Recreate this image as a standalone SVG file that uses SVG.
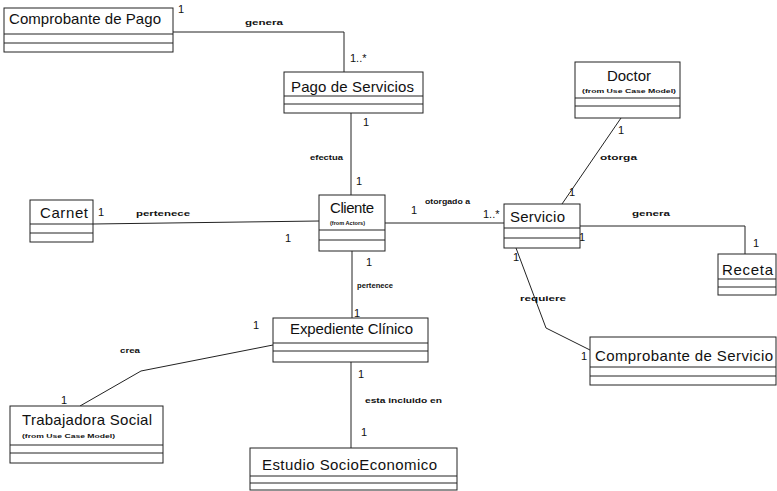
<svg xmlns="http://www.w3.org/2000/svg" width="777" height="491" viewBox="0 0 777 491">
  <style>
    .box { fill: #ffffff; stroke: #222222; stroke-width: 1; }
    .div { stroke: #222222; stroke-width: 1; fill: none; }
    .name { font-family: "Liberation Sans", Arial, sans-serif; font-size: 15px; fill: #111111; }
    .from { font-family: "Liberation Sans", Arial, sans-serif; font-size: 6px; font-weight: bold; fill: #111111; }
    .lbl { font-family: "Liberation Sans", Arial, sans-serif; font-size: 8px; font-weight: bold; fill: #111111; }
    .mult { font-family: "Liberation Sans", Arial, sans-serif; font-size: 11px; fill: #111111; }
    .assoc { stroke: #222222; stroke-width: 1; fill: none; }
  </style>
  <rect width="777" height="491" fill="#ffffff"/>

  <!-- associations -->
  <g id="connectors">
    <polyline class="assoc" points="173,32 344,32 344,72"/>
    <line class="assoc" x1="351" y1="113" x2="351" y2="195"/>
    <line class="assoc" x1="93" y1="224" x2="319" y2="221"/>
    <line class="assoc" x1="385" y1="223" x2="504" y2="223"/>
    <line class="assoc" x1="621" y1="118" x2="562" y2="204"/>
    <polyline class="assoc" points="580,226 745,226 745,254"/>
    <polyline class="assoc" points="516,248 546,328 590,350"/>
    <line class="assoc" x1="352" y1="251" x2="352" y2="318"/>
    <polyline class="assoc" points="273,345 141,371 80,406"/>
    <line class="assoc" x1="351" y1="362" x2="351" y2="448"/>

    <text class="lbl" x="245" y="25" textLength="38" lengthAdjust="spacingAndGlyphs">genera</text>
    <text class="mult" x="178" y="13">1</text>
    <text class="mult" x="350" y="62">1..*</text>
    <text class="mult" x="363" y="126">1</text>
    <text class="lbl" x="310" y="160" textLength="33" lengthAdjust="spacingAndGlyphs">efectua</text>
    <text class="mult" x="356" y="185">1</text>
    <text class="mult" x="98" y="216">1</text>
    <text class="lbl" x="136" y="216" textLength="54" lengthAdjust="spacingAndGlyphs">pertenece</text>
    <text class="mult" x="285" y="242">1</text>
    <text class="mult" x="411" y="214">1</text>
    <text class="lbl" x="425" y="204" textLength="45" lengthAdjust="spacingAndGlyphs">otorgado a</text>
    <text class="mult" x="483" y="218">1..*</text>
    <text class="lbl" x="600" y="160" textLength="37" lengthAdjust="spacingAndGlyphs">otorga</text>
    <text class="mult" x="569" y="196">1</text>
    <text class="mult" x="618" y="134">1</text>
    <text class="lbl" x="632" y="216" textLength="38" lengthAdjust="spacingAndGlyphs">genera</text>
    <text class="mult" x="579" y="241">1</text>
    <text class="mult" x="753" y="247">1</text>
    <text class="mult" x="513" y="261">1</text>
    <text class="lbl" x="520" y="301" textLength="46" lengthAdjust="spacingAndGlyphs">requiere</text>
    <text class="mult" x="581" y="360">1</text>
    <text class="mult" x="366" y="266">1</text>
    <text class="lbl" x="357" y="288" textLength="36" lengthAdjust="spacingAndGlyphs">pertenece</text>
    <text class="mult" x="354" y="317">1</text>
    <text class="mult" x="253" y="329">1</text>
    <text class="lbl" x="120" y="353" textLength="20" lengthAdjust="spacingAndGlyphs">crea</text>
    <text class="mult" x="61" y="404">1</text>
    <text class="mult" x="358" y="378">1</text>
    <text class="lbl" x="365" y="403" textLength="77" lengthAdjust="spacingAndGlyphs">esta incluido en</text>
    <text class="mult" x="361" y="436">1</text>
  </g>

  <g id="comprobante-pago">
    <rect class="box" x="4" y="8" width="169" height="44"/>
    <line class="div" x1="4" y1="34" x2="173" y2="34"/>
    <line class="div" x1="4" y1="43" x2="173" y2="43"/>
    <text class="name" x="9" y="24" textLength="152">Comprobante de Pago</text>
  </g>

  <g id="pago-servicios">
    <rect class="box" x="284" y="72" width="139" height="41"/>
    <line class="div" x1="284" y1="96" x2="423" y2="96"/>
    <line class="div" x1="284" y1="104" x2="423" y2="104"/>
    <text class="name" x="291" y="92" textLength="123">Pago de Servicios</text>
  </g>

  <g id="doctor">
    <rect class="box" x="575" y="62" width="105" height="56"/>
    <line class="div" x1="575" y1="98" x2="680" y2="98"/>
    <line class="div" x1="575" y1="106" x2="680" y2="106"/>
    <text class="name" x="607" y="81" textLength="44">Doctor</text>
    <text class="from" x="582" y="93" textLength="94" lengthAdjust="spacingAndGlyphs">(from Use Case Model)</text>
  </g>

  <g id="carnet">
    <rect class="box" x="30" y="200" width="63" height="42"/>
    <line class="div" x1="30" y1="224" x2="93" y2="224"/>
    <line class="div" x1="30" y1="233" x2="93" y2="233"/>
    <text class="name" x="40" y="218" textLength="48">Carnet</text>
  </g>

  <g id="cliente">
    <rect class="box" x="319" y="195" width="66" height="56"/>
    <line class="div" x1="319" y1="230" x2="385" y2="230"/>
    <line class="div" x1="319" y1="240" x2="385" y2="240"/>
    <text class="name" x="330" y="213" textLength="44">Cliente</text>
    <text class="from" x="330" y="225" textLength="35" lengthAdjust="spacingAndGlyphs">(from Actors)</text>
  </g>

  <g id="servicio">
    <rect class="box" x="504" y="204" width="76" height="44"/>
    <line class="div" x1="504" y1="228" x2="580" y2="228"/>
    <line class="div" x1="504" y1="238" x2="580" y2="238"/>
    <text class="name" x="510" y="222" textLength="55">Servicio</text>
  </g>

  <g id="receta">
    <rect class="box" x="718" y="254" width="58" height="41"/>
    <line class="div" x1="718" y1="279" x2="776" y2="279"/>
    <line class="div" x1="718" y1="287" x2="776" y2="287"/>
    <text class="name" x="722" y="275" textLength="51">Receta</text>
  </g>

  <g id="expediente-clinico">
    <rect class="box" x="273" y="318" width="155" height="44"/>
    <line class="div" x1="273" y1="343" x2="428" y2="343"/>
    <line class="div" x1="273" y1="351" x2="428" y2="351"/>
    <text class="name" x="290" y="334" textLength="123">Expediente Clínico</text>
  </g>

  <g id="comprobante-servicio">
    <rect class="box" x="590" y="337" width="186" height="48"/>
    <line class="div" x1="590" y1="367" x2="776" y2="367"/>
    <line class="div" x1="590" y1="376" x2="776" y2="376"/>
    <text class="name" x="595" y="361" textLength="178">Comprobante de Servicio</text>
  </g>

  <g id="trabajadora-social">
    <rect class="box" x="10" y="406" width="153" height="57"/>
    <line class="div" x1="10" y1="445" x2="163" y2="445"/>
    <line class="div" x1="10" y1="453" x2="163" y2="453"/>
    <text class="name" x="22" y="425" textLength="130">Trabajadora Social</text>
    <text class="from" x="22" y="438" textLength="93" lengthAdjust="spacingAndGlyphs">(from Use Case Model)</text>
  </g>

  <g id="estudio-socioeconomico">
    <rect class="box" x="250" y="448" width="207" height="42"/>
    <line class="div" x1="250" y1="476" x2="457" y2="476"/>
    <line class="div" x1="250" y1="483" x2="457" y2="483"/>
    <text class="name" x="262" y="470" textLength="175">Estudio SocioEconomico</text>
  </g>
</svg>
